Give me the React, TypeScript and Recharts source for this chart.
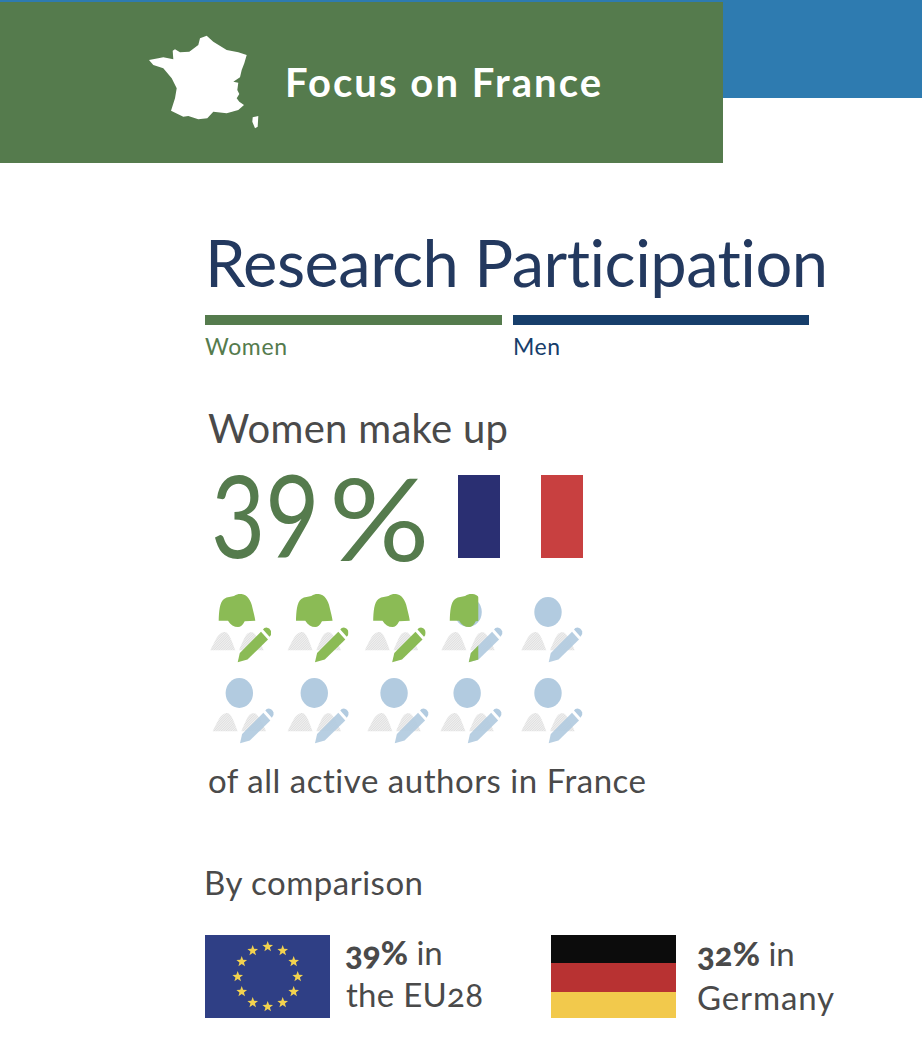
import React from 'react';
import { ScatterChart, Scatter, XAxis, YAxis } from 'recharts';

const WIDTH = 922;
const HEIGHT = 1060;
const FONT = 'Lato, "Open Sans", sans-serif';

const genders = ['Women', 'Men'];
const womenShareFrance = 39;
const comparisonPlaces = ['the EU28', 'Germany'];
const comparisonShares = [39, 32];

// one author icon per 10% of authors, left to right on two rows
const iconColumns = [0, 0.994, 1.987, 2.972, 4, 0.03, 0.994, 2.02, 2.96, 4];
const iconRows = [0, 0, 0, 0, 0, 1, 1, 1, 1, 1];
// part of each icon's width painted as a woman
const iconWomanPart = [1, 1, 1, 0.61, 0, 0, 0, 0, 0, 0];

const authors = iconColumns.map((col, i) => ({
  col,
  row: iconRows[i],
  woman: iconWomanPart[i],
  id: i,
}));

const GREEN = '#557b4d';
const NAVY = '#173e6b';
const TITLE = '#23395f';
const GREY = '#4a4a4a';
const ICON_GREEN = '#8bbb55';
const ICON_BLUE = '#b2cbe0';

const HAIR =
  'M-18.3 8.7 C-18 0 -17.5 -10 -13 -13 C-9.5 -15.5 -6 -15 -3 -16 C0 -18 2 -18.3 4.5 -18 C10 -17.5 14 -12 15.5 -4 C16.5 0 17.8 5 18.3 8.7 L7.7 9.3 C5.5 13.5 3.5 15 1 15 C-3 15 -6.5 13 -9 8.7 Z';
const PENCIL = 'M0.7 50.3 L2.8 41 L24 19.8 L31 27.5 L10.5 47.5 Z';
const PENCIL_CAP = 'M26 17.5 L32.5 24.8 Q35 22.5 34.2 19.5 Q33 16 29.5 15.5 Q27 15.7 26 17.5 Z';
const SHOULDERS =
  'M-26.7 38.3 C-23 31 -20 24 -17 22 C-15 20.3 -13 19.8 -11.5 20 C-8 21 -5 29 -1.7 38.3 Z M2 38.3 C5 31 8 24 10 22 C12 20 14 19.8 16 20.5 C20 23 24 32 26.7 38.3 Z';

const AuthorIcon = (props: any) => {
  const { cx, cy, payload } = props;
  const clipId = `woman-part-${payload.id}`;
  const left = -27;
  const iconWidth = 61;
  return (
    <g transform={`translate(${cx},${cy})`}>
      <defs>
        <pattern
          id={`hatch-${payload.id}`}
          width="1.7"
          height="1.7"
          patternUnits="userSpaceOnUse"
          patternTransform="rotate(45)"
        >
          <rect width="1.7" height="1.7" fill="#f1f1f1" />
          <rect width="0.7" height="1.7" fill="#dcdcdc" />
        </pattern>
        <clipPath id={clipId}>
          <rect x={left} y={-25} width={iconWidth * payload.woman} height={80} />
        </clipPath>
      </defs>
      <path d={SHOULDERS} fill={`url(#hatch-${payload.id})`} />
      {payload.woman < 1 && (
        <g fill={ICON_BLUE}>
          <ellipse cx={0} cy={0} rx={13.7} ry={15} />
          <path d={PENCIL} fillOpacity={0.92} />
          <path d={PENCIL_CAP} />
        </g>
      )}
      {payload.woman > 0 && (
        <g fill={ICON_GREEN} clipPath={`url(#${clipId})`}>
          <path d={HAIR} />
          <path d={PENCIL} />
          <path d={PENCIL_CAP} />
        </g>
      )}
    </g>
  );
};

const FRANCE =
  'M149 60 L158.3 58.3 L163.3 57.3 L173.3 59.3 L172.7 50.7 L175 49.3 L180 52.3 L189.3 51.7 L198.3 45 L200 38.3 L206.7 35.7 L213.3 41.7 L226.7 50 L238.3 52.3 L246.7 55 L244.3 63.3 L241.7 70 L240 77.3 L233.3 81.7 L238.3 82.7 L237.3 90 L239.3 94 L236.7 98.3 L239.3 101.7 L244 105 L238.3 110 L226.7 113.3 L213.3 111.7 L207.3 118.3 L198.3 119.3 L188.3 116 L183.3 116.7 L171 110.7 L175 98.3 L176.7 88.3 L171.7 78.3 L163.3 68.3 L153.3 65 Z M258.3 116 L257.7 126.7 L255 128.3 L252.3 121.7 L252.7 117.3 Z';

const STAR_ANGLES = [0, 30, 60, 90, 120, 150, 180, 210, 240, 270, 300, 330];

const starPath = (r: number) => {
  const pts: string[] = [];
  for (let i = 0; i < 10; i++) {
    const a = (-90 + i * 36) * (Math.PI / 180);
    const d = i % 2 === 0 ? r : r * 0.42;
    pts.push(`${(d * Math.cos(a)).toFixed(2)},${(d * Math.sin(a)).toFixed(2)}`);
  }
  return pts.join(' ');
};

const Backdrop = () => (
  <svg
    width={WIDTH}
    height={HEIGHT}
    style={{ position: 'absolute', left: 0, top: 0, fontFamily: FONT, fontVariantLigatures: 'none' }}
  >
    <rect x={0} y={0} width={WIDTH} height={98} fill="#2e7bb0" />
    <rect x={0} y={2} width={723} height={161} fill={GREEN} />
    <path d={FRANCE} fill="#fff" />
    <text x={285} y={97} fontSize={40} fontWeight={700} fill="#fff" textLength={316}>
      Focus on France
    </text>

    <text x={205} y={287} fontSize={65} fill={TITLE} textLength={623}>
      Research Participation
    </text>
    <rect x={205} y={315} width={297} height={10} fill={GREEN} />
    <rect x={513} y={315} width={296} height={10} fill={NAVY} />
    <text x={205} y={355} fontSize={23} fill={GREEN} textLength={82}>
      {genders[0]}
    </text>
    <text x={513} y={355} fontSize={23} fill={NAVY} textLength={47}>
      {genders[1]}
    </text>

    <text x={208} y={443} fontSize={40} fill={GREY} textLength={300}>
      Women make up
    </text>
    <text fontSize={114} fill={GREEN} transform="translate(211,558) scale(0.82,1)">
      {womenShareFrance}
    </text>
    <text fontSize={114} fill={GREEN} transform="translate(329,561) scale(1.1,1)">
      %
    </text>
    <rect x={458} y={475} width={42} height={83} fill="#2a2f72" />
    <rect x={541} y={475} width={42} height={83} fill="#c84040" />

    <text x={208} y={793} fontSize={33} fill={GREY} textLength={438}>
      of all active authors in France
    </text>
    <text x={204} y={895} fontSize={33} fill={GREY} textLength={219}>
      By comparison
    </text>

    <rect x={205} y={935} width={125} height={83} fill="#2f3f85" />
    {STAR_ANGLES.map((deg) => (
      <polygon
        key={deg}
        points={starPath(5.6)}
        fill="#f3d24f"
        transform={`translate(${267.7 + 30 * Math.sin((deg * Math.PI) / 180)},${976.7 - 30 * Math.cos((deg * Math.PI) / 180)})`}
      />
    ))}
    <text x={345} y={965} fontSize={33} fill={GREY} style={{ fontFeatureSettings: '"onum"' }}>
      <tspan fontWeight={900}>{comparisonShares[0]}%</tspan> in
    </text>
    <text x={346} y={1007} fontSize={33} fill={GREY} textLength={137} style={{ fontFeatureSettings: '"onum"' }}>
      {comparisonPlaces[0]}
    </text>

    <rect x={551} y={935} width={125} height={28} fill="#0c0c0c" />
    <rect x={551} y={963} width={125} height={29} fill="#b83232" />
    <rect x={551} y={992} width={125} height={26} fill="#f2c94c" />
    <text x={697} y={966} fontSize={33} fill={GREY} style={{ fontFeatureSettings: '"onum"' }}>
      <tspan fontWeight={900}>{comparisonShares[1]}%</tspan> in
    </text>
    <text x={697} y={1010} fontSize={33} fill={GREY} textLength={137}>
      {comparisonPlaces[1]}
    </text>
  </svg>
);

export default function App() {
  return (
    <div style={{ position: 'absolute', left: 0, top: 0, width: WIDTH, height: HEIGHT, background: '#fff' }}>
      <Backdrop />
      <div style={{ position: 'absolute', left: 0, top: 0 }}>
        <ScatterChart
          width={WIDTH}
          height={HEIGHT}
          margin={{ left: 237, right: 374, top: 612, bottom: 367 }}
        >
          <XAxis type="number" dataKey="col" domain={[0, 4]} hide />
          <YAxis type="number" dataKey="row" domain={[0, 1]} reversed hide />
          <Scatter data={authors} shape={AuthorIcon} isAnimationActive={false} />
        </ScatterChart>
      </div>
    </div>
  );
}
